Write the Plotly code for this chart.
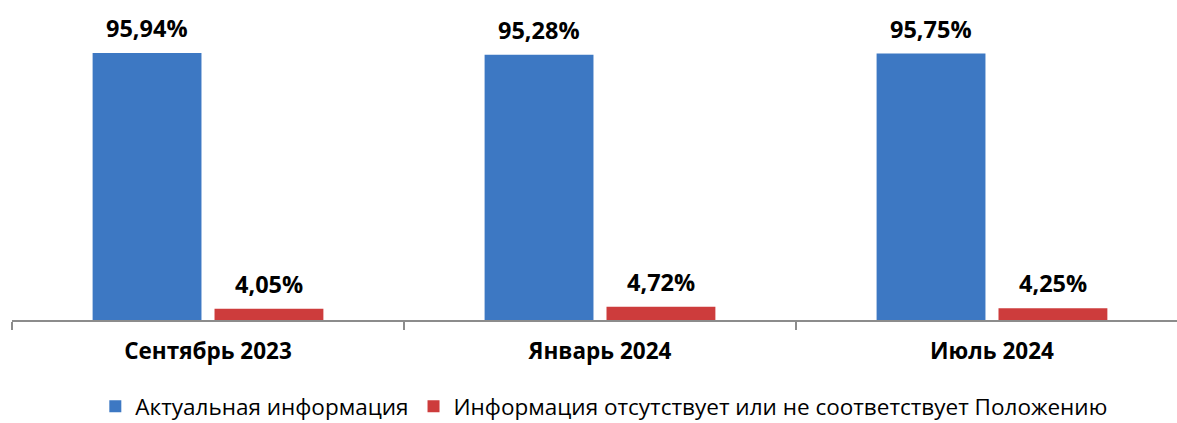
import plotly.graph_objects as go

categories = ["Сентябрь 2023", "Январь 2024", "Июль 2024"]
actual = [95.94, 95.28, 95.75]
missing = [4.05, 4.72, 4.25]
actual_labels = ["95,94%", "95,28%", "95,75%"]
missing_labels = ["4,05%", "4,72%", "4,25%"]

BLUE = "#3d78c3"
RED = "#cd3c3c"
FONT = "Open Sans"

fig = go.Figure()
fig.add_trace(go.Bar(x=categories, y=actual, name="Актуальная информация",
                     marker=dict(color=BLUE, line=dict(width=0))))
fig.add_trace(go.Bar(x=categories, y=missing,
                     name="Информация отсутствует или не соответствует Положению",
                     marker=dict(color=RED, line=dict(width=0))))

# value labels sit well above the bars, so use annotations
label_font = dict(size=23.5, color="black", family=FONT, weight="bold")
for cat, v, t in zip(categories, actual, actual_labels):
    fig.add_annotation(x=cat, y=v, text=t, xshift=-61, yshift=7, showarrow=False,
                       yanchor="bottom", font=label_font)
for cat, v, t in zip(categories, missing, missing_labels):
    fig.add_annotation(x=cat, y=v, text=t, xshift=61, yshift=7, showarrow=False,
                       yanchor="bottom", font=label_font)

fig.update_layout(
    width=1177, height=423,
    margin=dict(l=12, r=0, t=10, b=103, autoexpand=False),
    paper_bgcolor="white", plot_bgcolor="white",
    barmode="group", bargap=0.378, bargroupgap=0.107,
    showlegend=True,
    legend=dict(orientation="h", x=0.508, xanchor="center", y=-0.21, yanchor="top",
                font=dict(size=22.5, family=FONT, color="black"), itemwidth=30,
                traceorder="normal"),
)
fig.update_xaxes(
    type="category", range=[-0.5, 2.472], automargin=False,
    showline=True, linecolor="#8c8c8c", linewidth=1.5,
    ticks="outside", tickson="boundaries", ticklen=8, tickcolor="#8c8c8c", tickwidth=1.5,
    ticklabelstandoff=10,
    tickfont=dict(size=22.5, family=FONT, color="black", weight="bold"),
    showgrid=False,
)
fig.update_yaxes(range=[0, 111.4], visible=False, showgrid=False)

# the page body has a default 8px margin; drop it so the chart sits at 0,0
fig.write_html("out.html", config={"displayModeBar": False},
               post_script="document.body.style.margin='0';")
